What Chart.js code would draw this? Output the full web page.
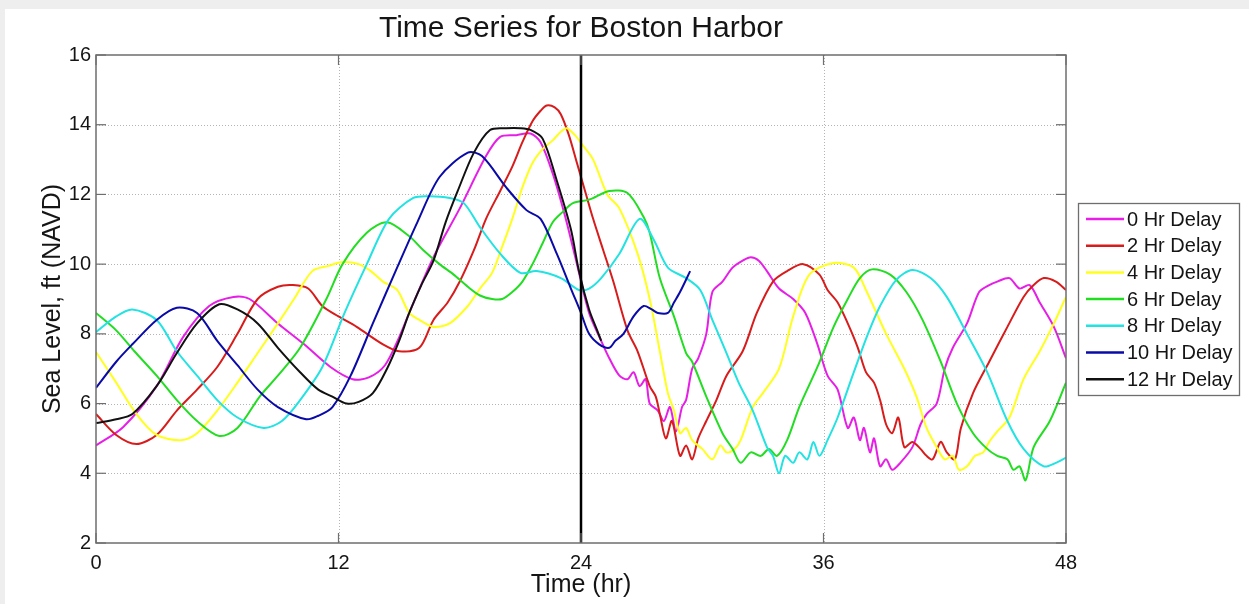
<!DOCTYPE html>
<html><head><meta charset="utf-8">
<script src="https://cdn.jsdelivr.net/npm/chart.js@4.4.0/dist/chart.umd.min.js"></script>
<style>html,body{margin:0;padding:0;background:#fff;overflow:hidden}#wrap{width:1249px;height:604px}</style>
</head><body><div id="wrap"><canvas id="c" width="1249" height="604"></canvas></div>
<script>
const chartTitle = "Time Series for Boston Harbor";
const xTitle = "Time (hr)";
const yTitle = "Sea Level, ft (NAVD)";
const seriesLabels = ["0 Hr Delay","2 Hr Delay","4 Hr Delay","6 Hr Delay","8 Hr Delay","10 Hr Delay","12 Hr Delay"];
const seriesColors = ["#e61ee6","#d81b1b","#ffff1e","#22dd22","#22e2e2","#0a0aa8","#111111"];
const xTicks = [0,12,24,36,48];
const yTicks = [2,4,6,8,10,12,14,16];
const markerTime = 24;

const t0 = [0,1.35,3.0,4.3,5.6,6.8,7.6,9.0,10.3,11.6,12.7,13.5,14.3,15.0,15.5,16.7,18.0,19.3,20.0,20.8,21.5,22.0,22.6,23.2,23.8,24.4,25.0,25.4,25.9,26.3,26.6,26.9,27.2,27.4,27.8,28.1,28.4,28.7,29.0,29.2,29.5,29.8,30.2,30.5,31.0,31.5,32.0,32.4,32.8,33.2,33.8,34.5,35.1,35.7,36.2,36.7,37.2,37.5,37.8,38.0,38.3,38.5,38.8,39.1,39.4,39.8,40.4,40.8,41.1,41.6,42.0,42.4,43.1,43.7,44.2,44.6,45.2,45.7,46.2,46.7,47.4,48];
const v0 = [4.8,5.33,6.5,7.9,8.8,9.06,9.0,8.3,7.7,7.05,6.7,6.75,7.1,7.9,8.6,10.2,11.6,13.1,13.65,13.7,13.75,13.5,12.6,11.4,10.0,8.6,7.8,7.3,6.8,6.7,6.9,6.5,6.7,6.0,5.8,5.5,5.9,5.2,5.9,6.1,7.0,7.3,8.0,9.2,9.5,9.9,10.1,10.2,10.1,9.8,9.3,9.0,8.6,7.7,6.8,6.4,5.3,5.6,4.95,5.3,4.6,5.0,4.2,4.4,4.1,4.3,4.75,5.4,5.7,6.0,7.0,7.6,8.3,9.2,9.4,9.5,9.6,9.3,9.4,8.9,8.2,7.3];

const t2 = [0,1.0,2.0,3.0,4.0,5.0,6.0,7.0,8.0,9.0,9.75,10.5,11.2,12.0,12.9,14.2,15.0,16.0,16.7,17.4,18.0,18.7,19.3,20.0,20.6,21.1,21.6,22.0,22.3,22.7,23.0,23.4,23.8,24.2,24.6,25.1,25.6,26.3,26.8,27.4,27.7,27.9,28.2,28.5,28.9,29.2,29.5,29.8,30.2,30.7,31.2,32.0,32.7,33.5,34.2,35.0,35.8,36.2,36.7,37.2,37.7,38.1,38.5,38.8,39.1,39.4,39.7,40.0,40.4,40.8,41.1,41.4,41.8,42.1,42.5,42.8,43.4,44.2,45.1,45.9,46.4,46.9,47.5,48];
const v2 = [5.7,5.1,4.84,5.1,5.8,6.4,7.05,8.0,9.0,9.35,9.4,9.3,8.8,8.5,8.2,7.7,7.5,7.6,8.4,8.9,9.5,10.4,11.3,12.1,12.8,13.5,14.1,14.4,14.55,14.5,14.3,13.7,12.9,12.1,11.3,10.4,9.5,8.1,7.5,6.5,6.2,5.7,5.0,5.5,4.5,4.8,4.4,5.0,5.5,6.1,6.8,7.5,8.6,9.5,9.8,10.0,9.7,9.26,8.9,8.3,7.6,6.9,6.6,6.1,5.4,5.15,5.6,4.75,4.9,4.7,4.5,4.4,4.9,4.6,4.4,5.3,6.3,7.2,8.2,9.06,9.4,9.6,9.5,9.26];

const t4 = [0,1.0,2.0,3.0,4.2,5.0,6.0,7.0,8.0,9.0,9.8,10.7,11.5,12.2,13.0,13.6,14.2,14.9,15.5,16.0,16.7,17.5,18.4,19.0,19.6,20.1,20.6,21.1,21.6,22.1,22.6,23.0,23.3,23.7,24.1,24.6,25.3,25.9,26.8,27.4,27.9,28.3,28.6,28.9,29.2,29.5,30.0,30.5,30.9,31.2,31.6,31.9,32.5,33.0,33.8,34.5,35.3,36.5,37.5,38.1,39.1,40.0,40.6,41.1,41.6,42.0,42.4,42.7,43.1,43.5,43.9,44.2,44.6,45.2,45.9,46.7,47.4,48];
const v4 = [7.48,6.6,5.7,5.1,4.95,5.15,5.8,6.6,7.45,8.3,9.0,9.8,9.95,10.06,10.0,9.8,9.5,9.26,8.6,8.4,8.2,8.3,8.8,9.3,9.75,10.5,11.3,12.2,12.9,13.3,13.55,13.8,13.9,13.7,13.4,13.0,12.0,11.6,10.3,9.0,7.5,6.3,5.8,5.15,5.3,4.95,4.7,4.4,4.8,4.6,4.7,4.95,5.9,6.3,7.0,8.5,9.7,10.03,9.9,9.26,8.0,7.0,6.2,5.3,4.75,4.4,4.5,4.1,4.2,4.5,4.6,4.9,5.2,5.6,6.7,7.5,8.3,9.06];

const t6 = [0,1.0,1.9,3.0,4.0,5.0,6.1,7.0,8.1,9.0,10.1,11.4,12.2,13.4,14.4,15.5,16.2,17.0,17.7,18.4,19.0,19.6,20.1,20.6,21.1,21.6,22.1,22.6,23.1,23.6,24.4,25.4,26.3,27.1,27.4,27.9,28.6,29.2,29.5,30.2,31.0,31.5,31.9,32.4,32.9,33.3,33.7,34.2,34.8,35.7,36.5,37.2,37.8,38.4,39.3,40.1,40.9,41.8,42.6,43.4,44.1,44.6,45.1,45.4,45.7,46.0,46.4,47.2,48];
const v6 = [8.6,8.1,7.5,6.8,6.1,5.5,5.07,5.3,6.2,6.8,7.6,9.0,10.0,10.9,11.2,10.8,10.4,10.0,9.7,9.35,9.1,9.0,9.0,9.2,9.5,10.0,10.6,11.2,11.5,11.75,11.85,12.1,12.04,11.35,10.9,9.6,8.5,7.45,7.2,6.2,5.15,4.7,4.3,4.6,4.5,4.7,4.5,4.95,5.9,7.05,8.2,9.0,9.6,9.85,9.7,9.2,8.4,7.2,6.0,5.15,4.7,4.5,4.4,4.1,4.2,3.8,4.75,5.5,6.6];

const t8 = [0,1.0,1.8,3.0,4.0,5.0,6.0,7.0,8.3,9.2,10.1,11.2,12.3,13.4,14.5,15.7,16.5,17.5,18.2,19.0,20.0,21.0,21.8,23.0,23.9,24.4,25.0,25.9,26.9,27.6,28.3,29.2,29.9,30.5,31.2,31.8,32.5,33.2,33.5,33.8,34.1,34.5,34.8,35.2,35.5,35.8,36.2,36.7,37.5,38.2,38.8,39.6,40.4,41.3,42.1,43.1,44.1,45.1,45.9,46.9,47.5,48];
const v8 = [8.05,8.5,8.7,8.4,7.5,6.8,6.1,5.6,5.3,5.5,6.1,7.05,8.6,10.0,11.3,11.9,11.95,11.9,11.75,11.06,10.3,9.75,9.8,9.6,9.26,9.3,9.6,10.3,11.3,10.7,9.9,9.6,9.26,8.4,7.45,6.6,5.8,4.75,4.5,4.0,4.5,4.3,4.6,4.4,4.9,4.5,4.95,5.6,6.9,8.0,8.8,9.55,9.83,9.6,9.06,8.0,6.9,5.5,4.7,4.2,4.3,4.45];

const t10 = [0,1.0,1.8,3.0,4.0,5.0,6.0,7.0,8.0,9.0,10.4,11.0,11.7,12.6,13.7,14.9,15.9,17.0,18.4,19.1,20.3,21.3,22.0,22.8,23.5,24.0,24.4,24.9,25.4,25.7,26.1,26.6,27.1,27.5,27.8,28.3,28.6,28.9,29.4];
const v10 = [6.45,7.2,7.7,8.4,8.75,8.6,7.8,7.1,6.4,5.9,5.55,5.65,5.9,6.8,8.3,9.9,11.2,12.5,13.2,13.1,12.2,11.55,11.3,10.3,9.3,8.6,8.0,7.7,7.6,7.8,8.0,8.5,8.8,8.7,8.6,8.6,8.9,9.2,9.8];

const t12 = [0,1.0,1.8,3.0,4.0,5.0,6.1,7.0,8.0,9.0,10.1,11.0,11.7,12.4,13.0,13.7,14.4,15.0,15.5,16.1,16.7,17.3,17.9,18.7,19.5,20.3,21.0,21.5,22.1,22.8,23.5,23.9,24.4,24.8,25.0];
const v12 = [5.44,5.55,5.7,6.5,7.45,8.3,8.85,8.7,8.3,7.6,6.9,6.4,6.2,6.0,6.05,6.3,7.0,7.8,8.6,9.4,10.1,11.2,12.1,13.2,13.85,13.9,13.9,13.85,13.6,12.4,11.0,9.8,8.7,8.1,7.8];

const seriesT = [t0,t2,t4,t6,t8,t10,t12];
const seriesV = [v0,v2,v4,v6,v8,v10,v12];

const FONT = "'Liberation Sans', Arial, Helvetica, sans-serif";
Chart.defaults.font.family = FONT;

const datasets = seriesLabels.map((lab, i) => ({
  label: lab,
  data: seriesT[i].map((t, k) => ({x: t, y: seriesV[i][k]})),
  borderColor: seriesColors[i],
  backgroundColor: seriesColors[i],
  borderWidth: 2,
  pointRadius: 0,
  tension: 0.3,
  fill: false,
  order: 20 - i
}));
datasets.push({
  label: '',
  data: [{x: markerTime, y: yTicks[0]}, {x: markerTime, y: yTicks[yTicks.length-1]}],
  borderColor: '#000', borderWidth: 2.5, pointRadius: 0, tension: 0, fill: false, order: 0, isMarker: true
});

const framePlugin = {
  id: 'frame',
  beforeDraw(chart) {
    const ctx = chart.ctx;
    ctx.save();
    ctx.fillStyle = '#eeeeee';
    ctx.fillRect(0, 0, chart.width, chart.height);
    ctx.fillStyle = '#ffffff';
    ctx.fillRect(5, 9, chart.width - 5, chart.height - 9);
    ctx.restore();
  },
  beforeDatasetsDraw(chart) {
    const {ctx, chartArea: a, scales: {x, y}} = chart;
    ctx.save();
    ctx.strokeStyle = '#b4b4b4';
    ctx.lineWidth = 1;
    ctx.setLineDash([1, 2]);
    xTicks.slice(1, -1).forEach(v => {
      const px = Math.round(x.getPixelForValue(v)) + 0.5;
      ctx.beginPath(); ctx.moveTo(px, a.top); ctx.lineTo(px, a.bottom); ctx.stroke();
    });
    yTicks.slice(1, -1).forEach(v => {
      const py = Math.round(y.getPixelForValue(v)) + 0.5;
      ctx.beginPath(); ctx.moveTo(a.left, py); ctx.lineTo(a.right, py); ctx.stroke();
    });
    ctx.restore();
  },
  afterDatasetsDraw(chart) {
    const {ctx, chartArea: a, scales: {x, y}} = chart;
    ctx.save();
    ctx.strokeStyle = '#6e6e6e';
    ctx.lineWidth = 1.5;
    ctx.strokeRect(a.left, a.top, a.right - a.left, a.bottom - a.top);
    ctx.lineWidth = 1.2;
    const L = 10;
    xTicks.forEach(v => {
      const px = x.getPixelForValue(v);
      ctx.beginPath(); ctx.moveTo(px, a.bottom); ctx.lineTo(px, a.bottom - L); ctx.stroke();
      ctx.beginPath(); ctx.moveTo(px, a.top); ctx.lineTo(px, a.top + L); ctx.stroke();
    });
    yTicks.forEach(v => {
      const py = y.getPixelForValue(v);
      ctx.beginPath(); ctx.moveTo(a.left, py); ctx.lineTo(a.left + L, py); ctx.stroke();
      ctx.beginPath(); ctx.moveTo(a.right, py); ctx.lineTo(a.right - L, py); ctx.stroke();
    });
    // titles
    ctx.fillStyle = '#151515';
    ctx.textAlign = 'center';
    ctx.textBaseline = 'alphabetic';
    ctx.font = '30px ' + FONT;
    ctx.fillText(chartTitle, (a.left + a.right) / 2, 37);
    ctx.font = '25px ' + FONT;
    ctx.fillText(xTitle, (a.left + a.right) / 2, 592);
    ctx.save();
    ctx.translate(60, (a.top + a.bottom) / 2);
    ctx.rotate(-Math.PI / 2);
    ctx.fillText(yTitle, 0, 0);
    ctx.restore();
    // legend
    const lx = 1078, ly = 203, lw = 161, lh = 192;
    ctx.fillStyle = '#fff';
    ctx.fillRect(lx, ly, lw, lh);
    ctx.strokeStyle = '#6e6e6e';
    ctx.lineWidth = 1.3;
    ctx.strokeRect(lx + 0.5, ly + 0.5, lw, lh);
    ctx.font = '20px ' + FONT;
    ctx.textAlign = 'left';
    ctx.textBaseline = 'middle';
    chart.data.datasets.forEach((ds, i) => {
      if (ds.isMarker) return;
      const cy = 219 + i * 26.7;
      ctx.strokeStyle = ds.borderColor;
      ctx.lineWidth = 2.5;
      ctx.beginPath(); ctx.moveTo(1086, cy); ctx.lineTo(1124, cy); ctx.stroke();
      ctx.fillStyle = '#151515';
      ctx.fillText(ds.label, 1127, cy + 1);
    });
    ctx.restore();
  }
};

new Chart(document.getElementById('c'), {
  type: 'line',
  data: {datasets},
  options: {
    responsive: false,
    animation: false,
    events: [],
    layout: {padding: {left: 0, top: 55, right: 183, bottom: 0}},
    plugins: {legend: {display: false}, tooltip: {enabled: false}, title: {display: false}},
    scales: {
      x: {
        type: 'linear', min: xTicks[0], max: xTicks[xTicks.length-1],
        afterBuildTicks: s => { s.ticks = xTicks.map(v => ({value: v})); },
        afterFit: s => { s.height = 61; },
        grid: {display: false, drawTicks: false},
        border: {display: false},
        ticks: {padding: 8, maxRotation: 0, autoSkip: false, color: '#151515', font: {size: 20}}
      },
      y: {
        type: 'linear', min: yTicks[0], max: yTicks[yTicks.length-1],
        afterBuildTicks: s => { s.ticks = yTicks.map(v => ({value: v})); },
        afterFit: s => { s.width = 96; },
        grid: {display: false, drawTicks: false},
        border: {display: false},
        ticks: {padding: 5, color: '#151515', font: {size: 20}}
      }
    }
  },
  plugins: [framePlugin]
});
</script>
</body></html>
